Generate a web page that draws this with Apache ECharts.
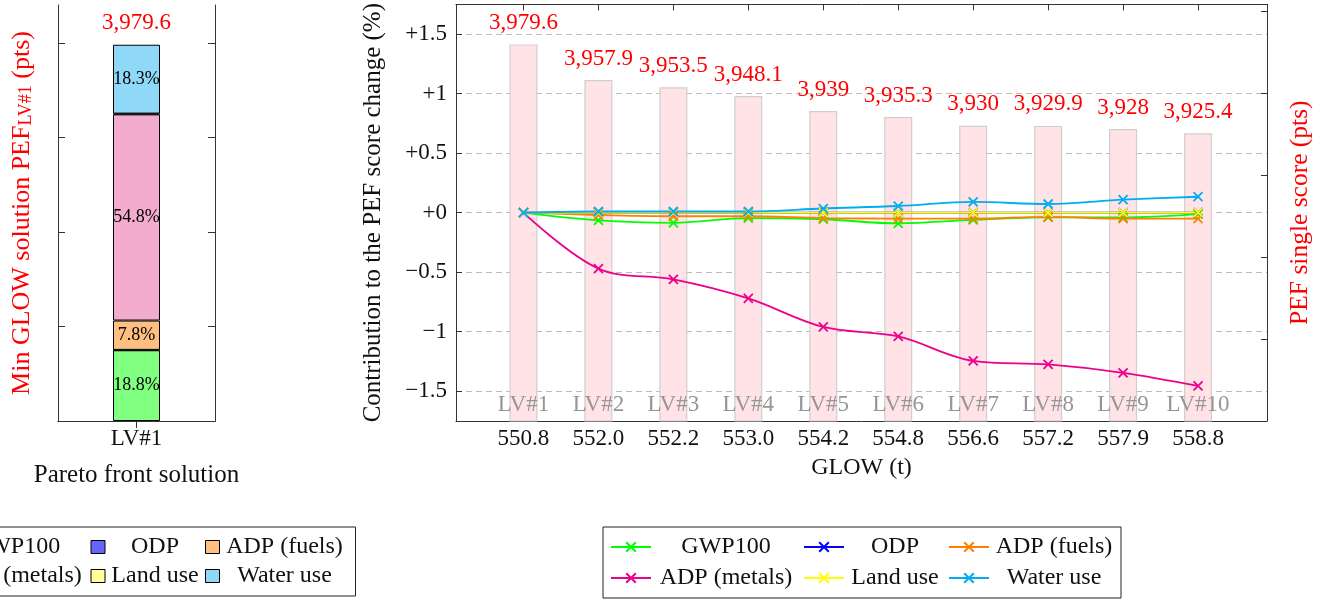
<!DOCTYPE html>
<html>
<head>
<meta charset="utf-8">
<script src="https://cdn.jsdelivr.net/npm/echarts@6/dist/echarts.min.js"></script>
<style>
html,body{margin:0;padding:0;background:#fff;}
#chart{width:1330px;height:599px;}
</style>
</head>
<body>
<div id="chart"></div>
<script>
// ---------- data ----------
const seriesNames = ['GWP100', 'ODP', 'ADP (fuels)', 'ADP (metals)', 'Land use', 'Water use'];
const lineColors = ['#00ff00', '#0000ff', '#ff8000', '#ec008c', '#ffff00', '#00aeef'];
const barColors = ['#80ff80', '#6666ff', '#ffbf80', '#f3abce', '#ffff99', '#8fd8f7'];

const leftCategory = ['LV#1'];
const leftTotal = [3979.6];
const leftSharesPct = [18.8, 0.1, 7.8, 54.8, 0.2, 18.3];
const leftTicks = [1000, 2000, 3000, 4000];

const glowLabels = ['550.8', '552.0', '552.2', '553.0', '554.2', '554.8', '556.6', '557.2', '557.9', '558.8'];
const lvLabels = ['LV#1', 'LV#2', 'LV#3', 'LV#4', 'LV#5', 'LV#6', 'LV#7', 'LV#8', 'LV#9', 'LV#10'];
const pefScores = [3979.6, 3957.9, 3953.5, 3948.1, 3939, 3935.3, 3930, 3929.9, 3928, 3925.4];
const rightTicks = [3750, 3800, 3850, 3900, 3950, 4000];

const gwp100 = [0, -0.065, -0.085, -0.045, -0.055, -0.09, -0.06, -0.04, -0.04, -0.012];
const odp = [0, 0, 0, 0, 0, 0, 0, 0, 0, 0];
const adpFuels = [0, -0.02, -0.03, -0.03, -0.045, -0.05, -0.05, -0.035, -0.05, -0.05];
const adpMetals = [0, -0.47, -0.56, -0.72, -0.96, -1.04, -1.245, -1.275, -1.345, -1.455];
const landUse = [0, 0, 0, 0, 0, 0, 0, 0, 0, 0];
const waterUse = [0, 0.01, 0.01, 0.01, 0.035, 0.056, 0.09, 0.073, 0.109, 0.134];
const lineData = [gwp100, odp, adpFuels, adpMetals, landUse, waterUse];

// ---------- helpers ----------
const FONT = 'Liberation Serif';
const idx = glowLabels.map((_, i) => i);
const fmtScore = v => Number(v).toLocaleString('en-US', {maximumFractionDigits: 1});
const fmtPct = v => (Math.abs(v) < 1e-9 ? '+0' : (v > 0 ? '+' + (+v.toFixed(2)) : '\u2212' + (+Math.abs(v).toFixed(2))));
const AX = '#333';

const rightCellW = [140, 92, 120];
const leftCellW = [140, 90, 120];

const chart = echarts.init(document.getElementById('chart'), null, {renderer: 'canvas'});

const series = [];
// line series first (so the right legend takes its icons from them)
seriesNames.forEach((n, k) => {
  series.push({
    type: 'line', name: n, xAxisIndex: 2, yAxisIndex: 2, z: 5,
    data: lineData[k].map((v, i) => [i, v]),
    smooth: 0.35,
    symbol: 'path://M0,0L10,10M10,0L0,10', symbolSize: 9,
    lineStyle: {color: lineColors[k], width: 1.8},
    itemStyle: {color: lineColors[k], borderColor: lineColors[k], borderWidth: 1.8},
    emphasis: {disabled: true}
  });
});
// right bars
series.push({
  type: 'bar', name: 'PEF single score', xAxisIndex: 2, yAxisIndex: 3, z: 2,
  barWidth: 28,
  data: pefScores.map((v, i) => [i, v]),
  itemStyle: {color: '#ffe3e6', borderColor: '#cfcfcf', borderWidth: 1.2},
  label: {show: true, position: 'top', distance: 10, color: '#ff0000', fontSize: 23, fontFamily: FONT,
    formatter: p => fmtScore(p.value[1])},
  emphasis: {disabled: true}
});
// left stacked bars
seriesNames.forEach((n, k) => {
  series.push({
    type: 'bar', name: n, xAxisIndex: 0, yAxisIndex: 0, stack: 'L', barWidth: 47,
    data: leftTotal.map(t => t * leftSharesPct[k] / 100),
    itemStyle: {color: barColors[k], borderColor: '#000', borderWidth: 1},
    label: {show: leftSharesPct[k] >= 1, position: 'inside', color: '#000', fontSize: 18, fontFamily: FONT,
      formatter: () => leftSharesPct[k].toFixed(1) + '%'},
    emphasis: {disabled: true}
  });
});
series.push({
  type: 'bar', name: 'total', xAxisIndex: 0, yAxisIndex: 0, stack: 'L', barWidth: 47,
  data: leftTotal.map(() => 0),
  itemStyle: {color: 'transparent', borderWidth: 0},
  label: {show: true, position: 'top', distance: 10, color: '#ff0000', fontSize: 23, fontFamily: FONT,
    formatter: p => fmtScore(leftTotal[p.dataIndex])},
  emphasis: {disabled: true}
});

const legendRich = (widths) => {
  const r = {};
  widths.forEach((w, i) => { r['c' + i] = {width: w, align: 'center', fontSize: 24, lineHeight: 22, fontFamily: FONT, color: '#111'}; });
  return r;
};

const option = {
  animation: false,
  textStyle: {fontFamily: FONT},
  grid: [
    {left: 58, top: 5, width: 157, height: 416},
    {left: 456, top: 4, width: 811, height: 417}
  ],
  legend: [
    {
      left: -81, top: 527, width: 425, orient: 'horizontal',
      padding: [8, 11, 8, 7], itemGap: 5, itemWidth: 14, itemHeight: 13,
      borderColor: '#222', borderWidth: 1,
      data: seriesNames.map((n, k) => ({name: n, icon: 'rect',
        itemStyle: {color: barColors[k], borderColor: '#000', borderWidth: 1, opacity: 1}})),
      formatter: n => '{c' + (seriesNames.indexOf(n) % 3) + '|' + n + '}',
      textStyle: {rich: legendRich(leftCellW)}
    },
    {
      left: 603, top: 527, width: 510, orient: 'horizontal',
      padding: [8, 7, 8, 7], itemGap: 7, itemWidth: 40, itemHeight: 12,
      borderColor: '#222', borderWidth: 1,
      data: seriesNames,
      formatter: n => '{c' + (seriesNames.indexOf(n) % 3) + '|' + n + '}',
      textStyle: {rich: legendRich(rightCellW)}
    }
  ],
  xAxis: [
    {gridIndex: 0, type: 'category', data: leftCategory, position: 'bottom',
      axisLine: {show: true, lineStyle: {color: AX}}, axisTick: {show: false},
      axisLabel: {fontSize: 23, color: '#111', margin: 6},
      name: 'Pareto front solution', nameLocation: 'middle', nameGap: 42,
      nameTextStyle: {fontSize: 25, color: '#111'}},
    {gridIndex: 0, type: 'category', data: leftCategory, position: 'top',
      axisLine: {show: true, lineStyle: {color: AX}},
      axisTick: {show: true, inside: true, alignWithLabel: true, length: 7, lineStyle: {color: AX}},
      axisLabel: {show: false}},
    {gridIndex: 1, type: 'value', min: -0.9, max: 9.92, position: 'bottom',
      axisLine: {show: true, onZero: false, lineStyle: {color: AX}},
      axisTick: {show: true, inside: true, length: 6, customValues: idx, lineStyle: {color: AX}},
      axisLabel: {show: true, customValues: idx, fontSize: 23, color: '#111', margin: 6, formatter: v => glowLabels[Math.round(v)]},
      splitLine: {show: false},
      name: 'GLOW (t)', nameLocation: 'middle', nameGap: 35, nameTextStyle: {fontSize: 24, color: '#111'}},
    {gridIndex: 1, type: 'value', min: -0.9, max: 9.92, position: 'top',
      axisLine: {show: true, onZero: false, lineStyle: {color: AX}},
      axisTick: {show: true, inside: true, length: 6, customValues: idx, lineStyle: {color: AX}},
      axisLabel: {show: false}, splitLine: {show: false}},
    {gridIndex: 1, type: 'value', min: -0.9, max: 9.92, position: 'bottom', z: 10,
      axisLine: {show: false, onZero: false}, axisTick: {show: false},
      axisLabel: {show: true, inside: true, customValues: idx, fontSize: 23, color: '#969696', margin: 5,
        formatter: v => lvLabels[Math.round(v)]},
      splitLine: {show: false}}
  ],
  yAxis: [
    {gridIndex: 0, type: 'value', min: 0, max: 4400, position: 'left',
      axisLine: {show: true, lineStyle: {color: AX}},
      axisTick: {show: true, inside: true, length: 7, customValues: leftTicks, lineStyle: {color: AX}},
      axisLabel: {show: false}, splitLine: {show: false},
      name: '{a|Min GLOW solution PEF}{b|LV#1}{a| (pts)}', nameLocation: 'middle', nameGap: 23,
      nameTextStyle: {color: '#ff0000', rich: {
        a: {fontSize: 26, color: '#ff0000', fontFamily: FONT, verticalAlign: 'bottom', lineHeight: 28},
        b: {fontSize: 18, color: '#ff0000', fontFamily: FONT, verticalAlign: 'bottom', lineHeight: 21}}}},
    {gridIndex: 0, type: 'value', min: 0, max: 4400, position: 'right',
      axisLine: {show: true, lineStyle: {color: AX}},
      axisTick: {show: true, inside: true, length: 7, customValues: leftTicks, lineStyle: {color: AX}},
      axisLabel: {show: false}, splitLine: {show: false}},
    {gridIndex: 1, type: 'value', min: -1.75, max: 1.75, position: 'left',
      splitNumber: 7, minInterval: 0.5, maxInterval: 0.5,
      axisLine: {show: true, onZero: false, lineStyle: {color: AX}},
      axisTick: {show: true, inside: true, length: 6, lineStyle: {color: AX}},
      axisLabel: {fontSize: 23, color: '#111', margin: 9, showMinLabel: false, showMaxLabel: false, formatter: fmtPct},
      splitLine: {show: true, showMinLine: false, showMaxLine: false, lineStyle: {color: '#bdbdbd', type: [6, 4], width: 1}},
      name: 'Contribution to the PEF score change (%)', nameLocation: 'middle', nameGap: 70,
      nameTextStyle: {fontSize: 25, color: '#111'}},
    {gridIndex: 1, type: 'value', min: 3750, max: 4004, position: 'right',
      axisLine: {show: true, onZero: false, lineStyle: {color: AX}},
      axisTick: {show: true, inside: true, length: 6, customValues: rightTicks, lineStyle: {color: AX}},
      axisLabel: {show: false}, splitLine: {show: false},
      name: 'PEF single score (pts)', nameLocation: 'middle', nameGap: 20,
      nameTextStyle: {fontSize: 25.5, color: '#ff0000'}}
  ],
  series: series
};
chart.setOption(option);
</script>
</body>
</html>
